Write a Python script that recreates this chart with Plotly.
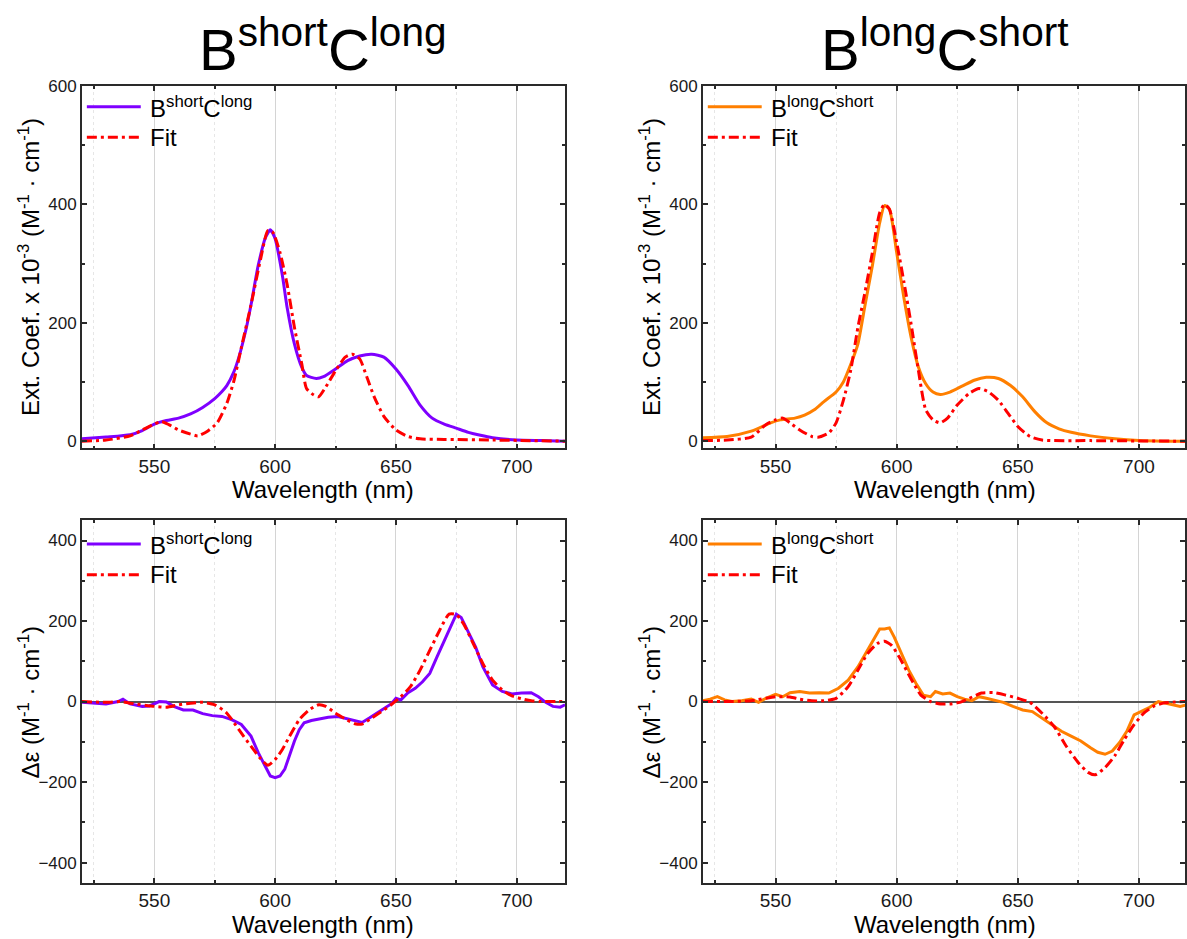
import plotly.graph_objects as go

W, H = 1187, 939

# ---------------- data ----------------
# Absorption, B^short C^long
abs_sc_wl = [520, 530, 540, 545, 550, 555, 560, 565, 570, 575, 578, 580, 583, 585, 588, 590, 593, 596, 598, 600,
             603, 605, 608, 611, 613, 617, 620, 625, 630, 635, 640, 645, 650, 655, 660, 665, 670, 675,
             680, 685, 690, 700, 710, 720]
abs_sc = [4, 7, 11, 18, 29, 35, 39, 46, 57, 72, 84, 94, 118, 142, 190, 230, 297, 344, 357, 342,
          280, 225, 164, 125, 111, 106, 109, 122, 136, 144, 147, 142, 122, 94, 61, 39, 29, 22,
          15, 10, 6, 2, 1, 0]
fit_abs_sc_wl = [520, 530, 540, 545, 550, 553, 556, 560, 565, 568, 572, 576, 580, 583, 586, 590, 594, 597,
                 599, 602, 605, 608, 611, 613, 616, 618, 621, 625, 629, 632, 635, 638, 641, 645, 650,
                 655, 660, 670, 690, 720]
fit_abs_sc = [0, 2, 9, 19, 29, 33, 28, 19, 12, 9, 17, 31, 64, 103, 158, 230, 308, 356,
              353, 319, 264, 192, 131, 89, 78, 75, 92, 119, 142, 147, 139, 108, 75, 42, 19,
              8, 4, 3, 2, 0]

# Absorption, B^long C^short
abs_ls_wl = [520, 530, 540, 548, 552, 558, 562, 566, 570, 575, 578, 580, 582, 584, 587, 590, 593, 595, 597, 600,
             603, 606, 609, 612, 615, 618, 622, 627, 632, 637, 642, 647, 652, 657, 662, 667, 672,
             680, 690, 700, 710, 720]
abs_ls = [6, 8, 17, 31, 36, 39, 44, 53, 67, 83, 100, 119, 140, 164, 231, 297, 369, 398, 392, 319,
          242, 175, 125, 97, 83, 79, 83, 93, 103, 108, 106, 94, 75, 50, 31, 21, 15,
          9, 4, 1, 0, 0]
fit_abs_ls_wl = [520, 530, 540, 546, 550, 553, 556, 560, 565, 568, 572, 575, 578, 581, 584, 587, 590, 593,
                 595, 597, 600, 603, 606, 609, 612, 615, 618, 621, 625, 630, 634, 638, 642, 646, 650,
                 655, 660, 680, 720]
fit_abs_ls = [1, 2, 7, 28, 36, 39, 31, 19, 8, 7, 14, 31, 69, 119, 192, 253, 319, 386,
              400, 392, 336, 269, 197, 119, 53, 36, 31, 39, 61, 81, 89, 83, 69, 47, 25,
              8, 2, 1, 0]

# CD, B^short C^long
cd_sc_wl = [520, 525, 530, 535, 537, 540, 545, 548, 552, 555, 558, 562, 566, 570, 574, 578, 582, 586,
            590, 593, 596, 598, 600, 602, 604, 606, 608, 610, 612, 615, 618, 622, 626, 630, 633,
            636, 639, 642, 645, 648, 650, 652, 655, 658, 661, 664, 667, 670, 673, 675, 677, 680,
            683, 686, 690, 694, 698, 702, 706, 709, 712, 715, 718, 720]
cd_sc = [-2, -4, -6, 0, 6, -6, -12, -11, 0, -1, -12, -21, -21, -30, -35, -37, -45, -57,
         -86, -127, -164, -185, -189, -185, -168, -131, -98, -70, -53, -47, -43, -39, -37, -43, -49,
         -52, -41, -29, -16, -6, 8, 4, 22, 33, 49, 70, 111, 152, 189, 217, 209, 172,
         135, 86, 41, 25, 19, 21, 22, 12, -2, -12, -14, -8]
fit_cd_sc_wl = [520, 530, 536, 540, 550, 555, 560, 565, 570, 575, 580, 585, 590, 594, 597, 600, 603, 606,
                610, 614, 618, 621, 625, 629, 633, 636, 640, 644, 648, 652, 656, 660, 664, 668, 672,
                675, 678, 682, 686, 690, 694, 698, 702, 706, 710, 720]
fit_cd_sc = [0, -2, 0, -4, -12, -14, -8, -4, -2, -8, -29, -70, -111, -142, -158, -144, -119, -86,
             -45, -21, -8, -12, -29, -43, -55, -56, -41, -25, -8, 12, 37, 78, 127, 176, 217,
             216, 193, 144, 94, 53, 29, 14, 7, 2, 0, 0]

# CD, B^long C^short
cd_ls_wl = [520, 523, 526, 529, 532, 536, 540, 543, 546, 550, 553, 556, 560, 564, 568, 572, 576, 580,
            584, 588, 591, 593, 595, 597, 599, 602, 605, 608, 611, 614, 616, 619, 622, 625, 628,
            631, 634, 637, 640, 644, 648, 652, 656, 660, 664, 668, 672, 676, 680, 683, 686, 689,
            692, 695, 698, 701, 704, 708, 711, 714, 717, 720]
cd_ls = [2, 6, 12, 4, 0, 2, 6, -2, 8, 18, 12, 22, 25, 21, 22, 21, 33, 53,
         86, 127, 156, 180, 180, 183, 160, 119, 78, 45, 16, 12, 25, 19, 21, 12, 6,
         2, 12, 8, 4, -2, -12, -21, -25, -41, -57, -74, -86, -98, -115, -126, -131, -123,
         -102, -74, -33, -25, -16, 0, -4, -8, -12, -8]
fit_cd_ls_wl = [520, 530, 540, 550, 556, 560, 565, 570, 575, 580, 584, 588, 592, 595, 598, 601, 604, 607,
                610, 614, 618, 622, 626, 630, 635, 640, 645, 650, 655, 660, 665, 670, 675, 679, 682,
                686, 690, 694, 698, 702, 706, 710, 715, 720]
fit_cd_ls = [0, 0, 2, 12, 11, 6, 2, 2, 8, 37, 78, 119, 144, 150, 139, 111, 78, 45,
             16, 0, -6, -6, -2, 8, 21, 22, 16, 8, -2, -29, -62, -111, -152, -176, -182,
             -164, -135, -94, -57, -29, -12, -4, -1, 0]

x_ticks = [550, 600, 650, 700]
x_minor = [525, 575, 625, 675]
abs_ticks = [0, 200, 400, 600]
abs_minor = [100, 300, 500]
cd_ticks = [-400, -200, 0, 200, 400]
cd_minor = [-300, -100, 100, 300]

PURPLE = "#7F00FF"
ORANGE = "#FF7F00"
RED = "#FF0000"
FIT_DASH = "10px,4px,3px,4px"
FONT = "Liberation Sans, Arial, sans-serif"

def fx(p):
    return p / W

def fy(p):
    return 1 - p / H

# panel pixel boxes (left, right, top, bottom)
L_X = (82, 566)
R_X = (704, 1187)
T_Y = (78, 445)
B_Y = (518, 885)

fig = go.Figure()

def add(x, y, color, dash, axis, smooth):
    fig.add_trace(go.Scatter(
        x=x, y=y, mode="lines", showlegend=False, xaxis="x" + axis, yaxis="y" + axis,
        line=dict(color=color, width=3, dash=dash,
                  shape="spline" if smooth else "linear", smoothing=0.6 if smooth else None),
        hoverinfo="skip"))

add(abs_sc_wl, abs_sc, PURPLE, "solid", "", True)
add(fit_abs_sc_wl, fit_abs_sc, RED, FIT_DASH, "", True)
add(abs_ls_wl, abs_ls, ORANGE, "solid", "2", True)
add(fit_abs_ls_wl, fit_abs_ls, RED, FIT_DASH, "2", True)
add(cd_sc_wl, cd_sc, PURPLE, "solid", "3", False)
add(fit_cd_sc_wl, fit_cd_sc, RED, FIT_DASH, "3", True)
add(cd_ls_wl, cd_ls, ORANGE, "solid", "4", False)
add(fit_cd_ls_wl, fit_cd_ls, RED, FIT_DASH, "4", True)

FRAME = "#2a2a2a"

def xax(dom, anchor, rng):
    return dict(domain=[fx(dom[0]), fx(dom[1])], anchor=anchor, range=rng,
                tickvals=x_ticks, ticks="inside", ticklen=5, tickwidth=1.5, tickcolor=FRAME,
                showline=True, linecolor=FRAME, linewidth=1.5, mirror="ticks",
                showgrid=True, gridcolor="#d4d4d4", gridwidth=1, zeroline=False,
                minor=dict(tickvals=x_minor, ticks="inside", ticklen=3, tickcolor=FRAME,
                           showgrid=True, gridcolor="#e6e6e6", griddash="dot", gridwidth=1),
                tickfont=dict(family=FONT, size=19, color="#1a1a1a"))

def yax(dom, anchor, rng, ticks, minor, zero):
    return dict(domain=[fy(dom[1]), fy(dom[0])], anchor=anchor, range=rng,
                tickvals=ticks, ticks="inside", ticklen=5, tickwidth=1.5, tickcolor=FRAME,
                showline=True, linecolor=FRAME, linewidth=1.5, mirror="ticks",
                showgrid=False, zeroline=zero, zerolinecolor="#555555", zerolinewidth=2,
                minor=dict(tickvals=minor, ticks="inside", ticklen=3, tickcolor=FRAME),
                tickfont=dict(family=FONT, size=17, color="#1a1a1a"))

annotations = []
shapes = []

def text(xp, yp, s, size, angle=0, xanchor="center"):
    annotations.append(dict(x=fx(xp), y=fy(yp), xref="paper", yref="paper", text=s,
                            showarrow=False, textangle=angle, xanchor=xanchor, yanchor="middle",
                            font=dict(family=FONT, size=size, color="#000000")))

SC = "B<sup>short</sup>C<sup>long</sup>"
LS = "B<sup>long</sup>C<sup>short</sup>"

# titles
text((L_X[0] + L_X[1]) / 2, 37, SC, 58)
text((704 + 1189) / 2, 37, LS, 58)

# axis titles
for (xl, yt, lab_y) in [(L_X, T_Y, "abs"), (R_X, T_Y, "abs"), (L_X, B_Y, "cd"), (R_X, B_Y, "cd")]:
    right = 1189 if xl[0] == 704 else xl[1]
    text((xl[0] + right) / 2, yt[1] + 42, "Wavelength (nm)", 24)
    if lab_y == "abs":
        s = "Ext. Coef. x 10<sup>-3</sup> (M<sup>-1</sup> · cm<sup>-1</sup>)"
    else:
        s = "Δε (M<sup>-1</sup> · cm<sup>-1</sup>)"
    text(xl[0] - 53, (yt[0] + yt[1]) / 2, s, 24, angle=-90)

# legends (drawn as layout decorations)
def legend(x0, y1, label, color):
    shapes.append(dict(type="line", xref="paper", yref="paper", x0=fx(x0 + 4), x1=fx(x0 + 58),
                       y0=fy(y1), y1=fy(y1), line=dict(color=color, width=3)))
    shapes.append(dict(type="line", xref="paper", yref="paper", x0=fx(x0 + 4), x1=fx(x0 + 58),
                       y0=fy(y1 + 31), y1=fy(y1 + 31), line=dict(color=RED, width=3, dash=FIT_DASH)))
    text(x0 + 65, y1, label, 24, xanchor="left")
    text(x0 + 65, y1 + 31, "Fit", 24, xanchor="left")

legend(83, 99, SC, PURPLE)
legend(705, 99, LS, ORANGE)
legend(83, 542, SC, PURPLE)
legend(705, 542, LS, ORANGE)

fig.update_layout(
    width=W, height=H, margin=dict(l=0, r=0, t=0, b=0),
    paper_bgcolor="white", plot_bgcolor="white",
    font=dict(family=FONT, color="#000000"),
    xaxis=xax(L_X, "y", [520, 720]),
    yaxis=yax(T_Y, "x", [-12, 600], abs_ticks, abs_minor, False),
    xaxis2=xax(R_X, "y2", [520, 719]),
    yaxis2=yax(T_Y, "x2", [-12, 600], abs_ticks, abs_minor, False),
    xaxis3=xax(L_X, "y3", [520, 720]),
    yaxis3=yax(B_Y, "x3", [-450, 450], cd_ticks, cd_minor, True),
    xaxis4=xax(R_X, "y4", [520, 719]),
    yaxis4=yax(B_Y, "x4", [-450, 450], cd_ticks, cd_minor, True),
    annotations=annotations, shapes=shapes,
)

fig.write_html("out.html")
